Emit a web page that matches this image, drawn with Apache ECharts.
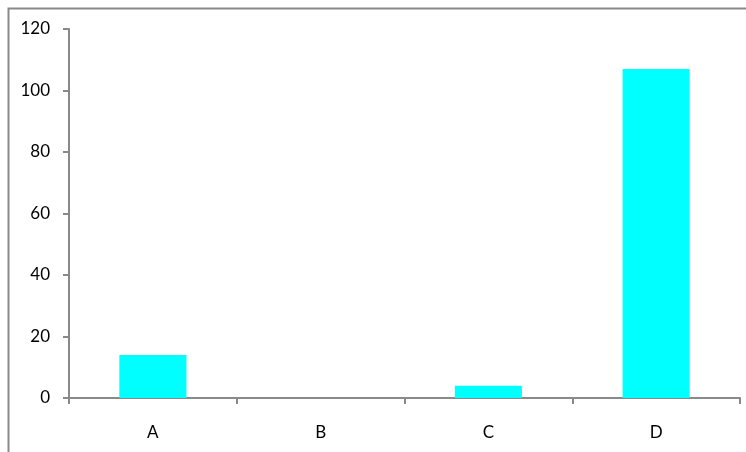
<!DOCTYPE html>
<html>
<head>
<meta charset="utf-8">
<script src="https://cdn.jsdelivr.net/npm/echarts@6/dist/echarts.min.js"></script>
<style>html,body{margin:0;padding:0;background:#fff}#c{width:746px;height:452px}</style>
</head>
<body>
<div id="c"></div>
<script>
const categories = ['A', 'B', 'C', 'D'];
const values = [14, 0, 4, 107];
const yTicks = [0, 20, 40, 60, 80, 100, 120];

const chart = echarts.init(document.getElementById('c'), null, {renderer: 'canvas'});
const axisColor = '#898989';
const font = 'Lato, "Open Sans", sans-serif';
chart.setOption({
  animation: false,
  backgroundColor: '#fff',
  graphic: [{
    type: 'rect', left: 6, top: 6, shape: {width: 760, height: 470},
    style: {fill: 'none', stroke: axisColor, lineWidth: 2}, z: 0
  }],
  grid: {left: 69, top: 29, right: 6, bottom: 54, containLabel: false},
  xAxis: {
    type: 'category', data: categories,
    axisLine: {lineStyle: {color: axisColor, width: 2}},
    axisTick: {show: true, length: 6, lineStyle: {color: axisColor, width: 2}},
    axisLabel: {color: '#000', fontSize: 17, fontFamily: font, margin: 26}
  },
  yAxis: {
    type: 'value', min: yTicks[0], max: yTicks[yTicks.length - 1], interval: 20,
    axisLine: {show: true, lineStyle: {color: axisColor, width: 2}},
    axisTick: {show: true, length: 6, lineStyle: {color: axisColor, width: 2}},
    splitLine: {show: false},
    axisLabel: {color: '#000', fontSize: 17, fontFamily: font, margin: 19}
  },
  series: [{
    type: 'bar', data: values, barCategoryGap: '60%',
    itemStyle: {color: '#00FFFF'}
  }]
});
</script>
</body>
</html>
